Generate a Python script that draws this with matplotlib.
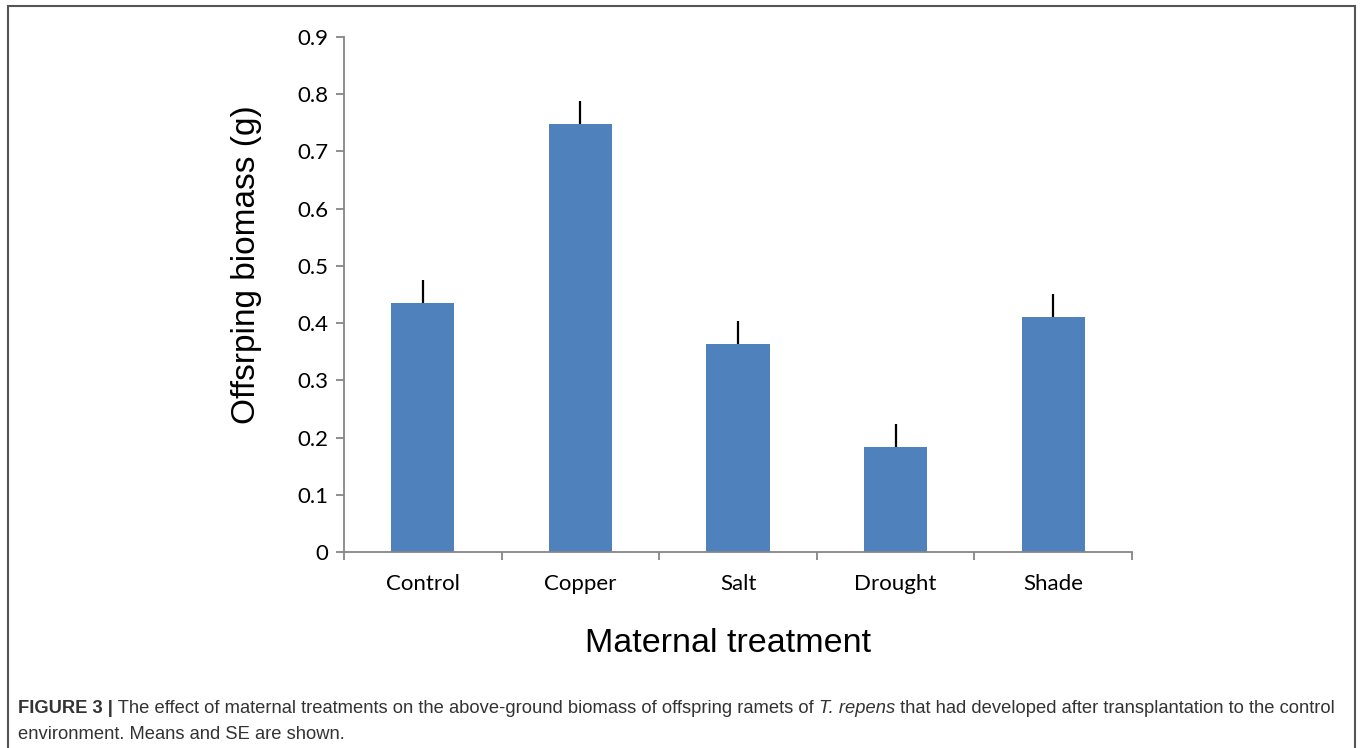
import numpy as np
import matplotlib.pyplot as plt
from matplotlib.patches import Rectangle

treatments = ['Control', 'Copper', 'Salt', 'Drought', 'Shade']
biomass = [0.435, 0.748, 0.364, 0.184, 0.411]
se = [0.040, 0.040, 0.040, 0.040, 0.040]
yticks = [0, 0.1, 0.2, 0.3, 0.4, 0.5, 0.6, 0.7, 0.8, 0.9]

bar_color = '#4F81BD'
axis_color = '#868686'

fig = plt.figure(figsize=(13.6, 7.48), dpi=100)
ax = fig.add_axes([344/1360, 1 - 552/748, 788/1360, 515/748])

x = np.arange(len(treatments))
ax.bar(x, biomass, width=0.4, color=bar_color, zorder=2)
# one-sided (upper) SE bars
ax.errorbar(x, biomass, yerr=[np.zeros(len(se)), se], fmt='none',
            ecolor='black', elinewidth=1.6, capsize=0, zorder=3)

ax.set_xlim(-0.5, len(treatments) - 0.5)
ax.set_ylim(0, 0.9)
ax.set_yticks(yticks)
ax.set_yticklabels(['0'] + ['%.1f' % v for v in yticks[1:]])
ax.set_xticks(x)
ax.set_xticklabels(treatments)
ax.set_xticks(np.arange(len(treatments) + 1) - 0.5, minor=True)
ax.tick_params(axis='x', which='major', length=0, pad=16)
ax.tick_params(axis='x', which='minor', length=6, color=axis_color, width=1.3)
ax.tick_params(axis='y', length=6, color=axis_color, width=1.3, pad=5)
for lab in ax.get_xticklabels() + ax.get_yticklabels():
    lab.set_fontfamily('Lato')
    lab.set_fontsize(16)

for s in ['top', 'right']:
    ax.spines[s].set_visible(False)
for s in ['left', 'bottom']:
    ax.spines[s].set_color(axis_color)
    ax.spines[s].set_linewidth(1.3)

ax.set_ylabel('Offsrping biomass (g)', fontsize=24, family='Liberation Sans')
ax.yaxis.set_label_coords(-(344 - 262) / 788, (552 - 265) / 515)
fig.text(728/1360, 1 - 643/748, 'Maternal treatment', fontsize=24.5,
         family='Liberation Sans', ha='center', va='center')

# outer frame
fig.patches.append(Rectangle((8/1360, -0.05), 1347/1360, 1.05 - 6/748,
                             transform=fig.transFigure, fill=False,
                             edgecolor='#555555', linewidth=1.5))

# caption with mixed bold / italic runs
renderer = fig.canvas.get_renderer()
cap_size = 13.2
line1 = [('FIGURE 3 |', 'bold', 'normal'),
         (' The effect of maternal treatments on the above-ground biomass of offspring ramets of ', 'normal', 'normal'),
         ('T. repens', 'normal', 'italic'),
         (' that had developed after transplantation to the control', 'normal', 'normal')]
line2 = [('environment. Means and SE are shown.', 'normal', 'normal')]
for parts, ypix in [(line1, 713), (line2, 739)]:
    xpix = 18
    for txt, weight, style in parts:
        t = fig.text(xpix/1360, 1 - ypix/748, txt, fontsize=cap_size,
                     family='Liberation Sans', weight=weight, style=style,
                     color='#333333', va='baseline')
        xpix += t.get_window_extent(renderer).width

fig.savefig('out.png', dpi=100)
